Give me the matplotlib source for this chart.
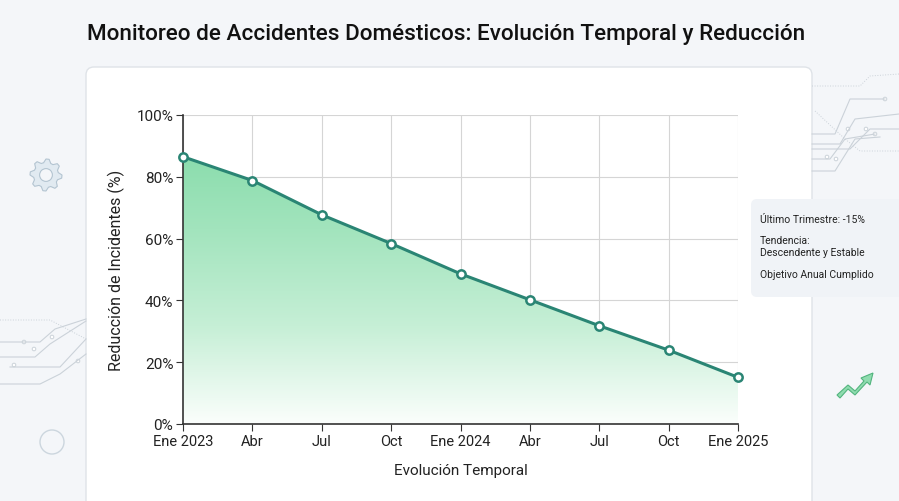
import numpy as np
import matplotlib
matplotlib.use("Agg")
import matplotlib.pyplot as plt
from matplotlib.patches import FancyBboxPatch, Polygon, Circle
from matplotlib.colors import LinearSegmentedColormap

plt.rcParams['font.family'] = ['Roboto', 'DejaVu Sans']

# datos
periodos = ['Ene 2023', 'Abr', 'Jul', 'Oct', 'Ene 2024', 'Abr', 'Jul', 'Oct', 'Ene 2025']
reduccion = [86.5, 78.8, 67.7, 58.4, 48.6, 40.2, 31.8, 23.9, 15.1]
y_ticks = [0, 20, 40, 60, 80, 100]
notas = ['Último Trimestre: -15%', 'Tendencia:\nDescendente y Estable', 'Objetivo Anual Cumplido']

W, H = 899, 502
fig = plt.figure(figsize=(W / 100, H / 100), dpi=100)
fig.patch.set_facecolor('#f4f6f9')

# capa de fondo en pixeles (decoracion)
bg = fig.add_axes([0, 0, 1, 1], zorder=0)
bg.set_xlim(0, W)
bg.set_ylim(H, 0)
bg.axis('off')

# tarjeta blanca
card = FancyBboxPatch((86, 68), 726, 460, boxstyle='round,pad=0,rounding_size=8',
                      facecolor='white', edgecolor='#dfe3e8', linewidth=1.0)
bg.add_patch(card)

# panel lateral
panel = FancyBboxPatch((751, 200), 160, 98, boxstyle='round,pad=0,rounding_size=6',
                       facecolor='#f0f3f7', edgecolor='none')
bg.add_patch(panel)
ys = [220, 247, 275]
for txt, yy in zip(notas, ys):
    bg.text(760, yy, txt, fontsize=7.5, color='#222222', va='center', ha='left',
            linespacing=1.2)


# engranajes
def gear(cx, cy, r, ax, n=8):
    pts = []
    for i in range(n * 4):
        a = 2 * np.pi * i / (n * 4)
        rr = r if (i % 4) in (0, 1) else r * 0.78
        pts.append((cx + rr * np.cos(a), cy + rr * np.sin(a)))
    ax.add_patch(Polygon(pts, closed=True, facecolor='#e1eaf1', edgecolor='#b3c4d1', lw=0.8))
    ax.add_patch(Circle((cx, cy), r * 0.4, facecolor='#f4f6f9', edgecolor='#b3c4d1', lw=0.8))


gear(46, 176, 16, bg)
bg.add_patch(Circle((52, 443), 12, facecolor='none', edgecolor='#ccd6de', lw=1.0))

# lineas de circuito
circ_col = '#cbd2d9'
izq = [[(0, 343), (40, 343), (55, 330), (86, 320)],
       [(0, 358), (35, 358), (50, 345), (86, 322)],
       [(10, 368), (60, 368), (86, 340)],
       [(0, 385), (40, 385), (60, 375), (86, 355)]]
for seg in izq:
    xs, yv = zip(*seg)
    bg.plot(xs, yv, color=circ_col, lw=0.8)
for (cx, cy) in [(24, 343), (14, 366), (34, 350), (78, 362), (52, 338)]:
    bg.add_patch(Circle((cx, cy), 1.8, facecolor='white', edgecolor=circ_col, lw=0.7))
bg.plot([0, 30, 50, 86], [321, 321, 321, 340], color=circ_col, lw=0.7, ls=':')

der = [[(812, 135), (835, 135), (850, 100), (885, 100)],
       [(812, 145), (840, 145), (855, 120), (899, 115)],
       [(812, 150), (850, 150), (870, 130), (899, 130)],
       [(812, 160), (830, 160), (845, 140), (875, 135)],
       [(812, 172), (835, 172), (855, 140), (880, 138)]]
for seg in der:
    xs, yv = zip(*seg)
    bg.plot(xs, yv, color=circ_col, lw=0.8)
for (cx, cy) in [(885, 100), (875, 135), (848, 130), (836, 160), (866, 130), (827, 158)]:
    bg.add_patch(Circle((cx, cy), 1.8, facecolor='white', edgecolor=circ_col, lw=0.7))
bg.plot([812, 860, 870, 899], [87, 87, 77, 75], color=circ_col, lw=0.7, ls=':')
bg.plot([815, 845, 860, 899], [112, 140, 152, 152], color=circ_col, lw=0.7, ls=':')

# flecha verde
arrow = Polygon([(837, 396), (848, 386), (855, 392), (864, 382), (861, 379), (873, 374),
                 (870, 386), (867, 383), (855, 396), (848, 390), (840, 399)],
                closed=True, facecolor='#8fdcaf', edgecolor='#52b47e', lw=0.8)
bg.add_patch(arrow)

# titulo
fig.text(87 / W, 1 - 35 / H, 'Monitoreo de Accidentes Domésticos: Evolución Temporal y Reducción',
         fontsize=16.2, fontweight='medium', color='#111111', va='center', ha='left')

# grafico principal
ax = fig.add_axes([183 / W, 1 - 425 / H, (738 - 183) / W, (425 - 116) / H], zorder=2)
ax.patch.set_alpha(0)
x = np.arange(len(periodos))

# relleno con degradado
grad = np.linspace(0, 1, 256).reshape(-1, 1)
cmap = LinearSegmentedColormap.from_list(
    'g', [(0, '#fbfefc'), (0.35, '#c6efd6'), (0.7, '#a2e4bd'), (1, '#88dcab')])
img = ax.imshow(grad, cmap=cmap, aspect='auto', extent=[x[0], x[-1], 0, 90],
                origin='lower', zorder=1, vmin=0, vmax=1)
verts = [(x[0], 0)] + list(zip(x, reduccion)) + [(x[-1], 0)]
clip = Polygon(verts, closed=True, transform=ax.transData, facecolor='none', edgecolor='none')
ax.add_patch(clip)
img.set_clip_path(clip)

ax.plot(x, reduccion, color='#2a8574', lw=2.2, zorder=3,
        marker='o', markersize=6, markerfacecolor='white', markeredgecolor='#2a8574',
        markeredgewidth=1.8, clip_on=False)

ax.set_xlim(x[0], x[-1])
ax.set_ylim(0, 100)
ax.set_xticks(x)
ax.set_xticklabels(periodos, fontsize=10.5, color='#222222')
ax.set_yticks(y_ticks)
ax.set_yticklabels([f'{v}%' for v in y_ticks], fontsize=11, color='#222222')
ax.grid(True, color='#d5d5d5', lw=0.8, zorder=0)
ax.set_axisbelow(True)
for s in ['top', 'right']:
    ax.spines[s].set_visible(False)
for s in ['left', 'bottom']:
    ax.spines[s].set_color('#333333')
    ax.spines[s].set_linewidth(1.2)
ax.tick_params(axis='both', length=5, color='#333333', pad=2)
ax.set_xlabel('Evolución Temporal', fontsize=11, color='#222222', labelpad=11)
ax.set_ylabel('Reducción de Incidentes (%)', fontsize=11.5, color='#222222', labelpad=8)

fig.savefig('out.png', dpi=100, facecolor=fig.get_facecolor())
